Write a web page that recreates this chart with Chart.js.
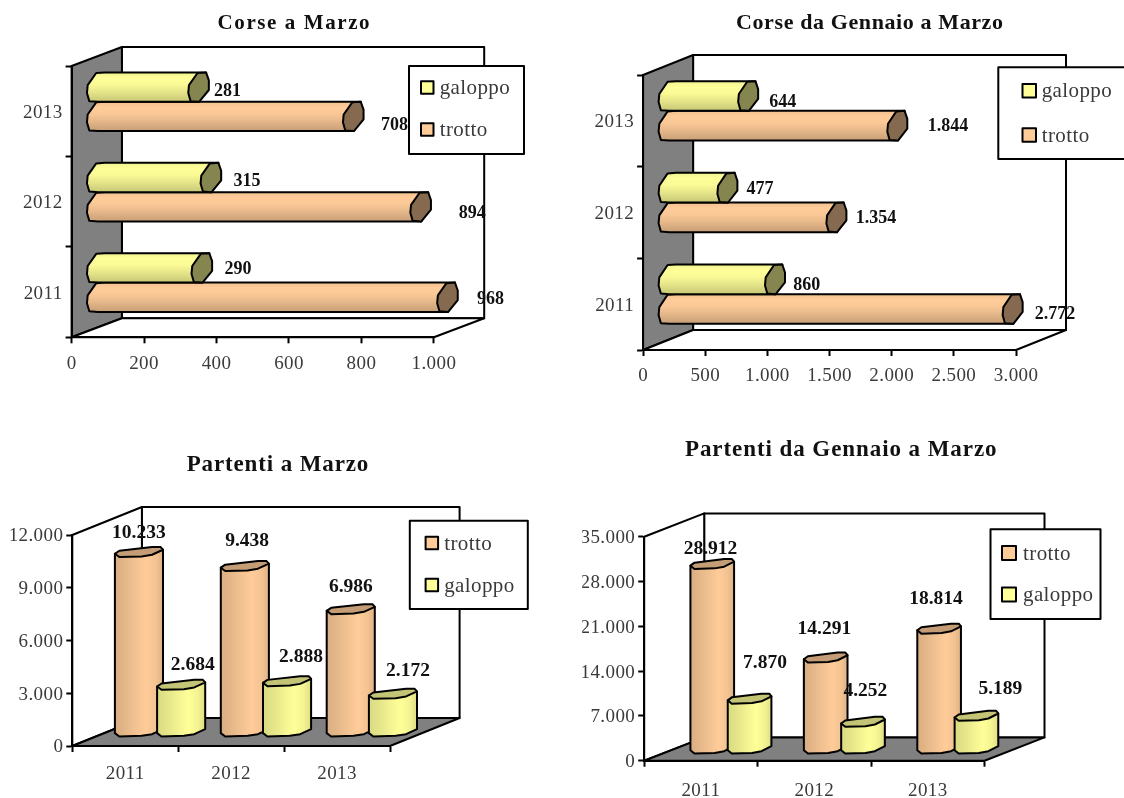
<!DOCTYPE html>
<html>
<head>
<meta charset="utf-8">
<title>Corse e partenti</title>
<script src="https://cdn.jsdelivr.net/npm/chart.js@4/dist/chart.umd.js"></script>
<style>
  html, body { margin: 0; padding: 0; background: #fff; }
  body { position: relative; width: 1124px; height: 798px; overflow: hidden; }
  canvas { position: absolute; }
</style>
</head>
<body>
<canvas id="corseMarzo"></canvas>
<canvas id="corseGennaio"></canvas>
<canvas id="partentiMarzo"></canvas>
<canvas id="partentiGennaio"></canvas>
<script>
// horizontal charts list years top to bottom
const corseYears = ['2013', '2012', '2011']
const corseMarzoGaloppo = [281, 315, 290]
const corseMarzoTrotto = [708, 894, 968]
const corseGennaioGaloppo = [644, 477, 860]
const corseGennaioTrotto = [1844, 1354, 2772]

const partentiYears = ['2011', '2012', '2013']
const partentiMarzoTrotto = [10233, 9438, 6986]
const partentiMarzoGaloppo = [2684, 2888, 2172]
const partentiGennaioTrotto = [28912, 14291, 18814]
const partentiGennaioGaloppo = [7870, 4252, 5189]

const TROTTO = [255, 204, 153]
const GALOPPO = [255, 255, 153]

// outline of the cylinder ends, in units of half width / half height
const sideCap = [[-0.1, -0.96], [0.73, -1], [1, -0.46], [1, 0.2], [0.07, 1], [-0.77, 0.96], [-1, 0.41], [-0.93, -0.13]]
const topCap = [[-0.97, 0.33], [-0.79, -0.27], [0.53, -1], [0.875, -1], [0.97, -0.47], [0.53, 0.53], [0.11, 0.87], [-0.79, 1]]

const shade = (rgb, f) => `rgb(${rgb.map(c => Math.round(c * f)).join(',')})`
const dotted = v => String(v).replace(/\B(?=(\d{3})+$)/g, '.')

function capPath(ctx, pts, cx, cy, a, h) {
  ctx.beginPath()
  pts.forEach((p, i) => {
    if (i === 0) ctx.moveTo(cx + p[0] * a, cy + p[1] * h)
    else ctx.lineTo(cx + p[0] * a, cy + p[1] * h)
  })
  ctx.closePath()
}

function inkStroke(ctx) {
  ctx.lineWidth = 2
  ctx.strokeStyle = '#000'
  ctx.lineJoin = 'round'
  ctx.stroke()
}

function drawSideBar(ctx, el, rgb, depth) {
  const { x, y, base, height } = el.getProps(['x', 'y', 'base', 'height'], true)
  const h = height / 2
  const a = depth.capA
  const cy = y + depth.dy / 2
  const x0 = base + depth.dx / 2
  const x1 = x + depth.dx / 2
  const grad = ctx.createLinearGradient(0, cy - h, 0, cy + h)
  const stops = [[0, 0.95], [0.2, 1], [0.4, 0.98], [0.6, 0.92], [0.8, 0.85], [1, 0.78]]
  stops.forEach(s => grad.addColorStop(s[0], shade(rgb, s[1])))
  ctx.beginPath()
  ctx.moveTo(x0 + 0.73 * a, cy - h)
  ctx.lineTo(x1 + 0.73 * a, cy - h)
  ctx.lineTo(x1 + 0.07 * a, cy + h)
  ctx.lineTo(x0 + 0.07 * a, cy + h)
  ctx.lineTo(x0 - 0.77 * a, cy + 0.96 * h)
  ctx.lineTo(x0 - a, cy + 0.41 * h)
  ctx.lineTo(x0 - 0.93 * a, cy - 0.13 * h)
  ctx.lineTo(x0 - 0.1 * a, cy - 0.96 * h)
  ctx.closePath()
  ctx.fillStyle = grad
  ctx.fill()
  inkStroke(ctx)
  capPath(ctx, sideCap, x1, cy, a, h)
  ctx.fillStyle = shade(rgb, 0.52)
  ctx.fill()
  inkStroke(ctx)
}

function drawColumn(ctx, el, rgb, depth) {
  const { x, y, base, width } = el.getProps(['x', 'y', 'base', 'width'], true)
  const a = width / 2
  const h = depth.capH
  const cx = x + depth.dx / 2
  const y0 = base + depth.dy / 2
  const y1 = y + depth.dy / 2
  const grad = ctx.createLinearGradient(cx - a, 0, cx + a, 0)
  const stops = [[0, 0.85], [0.2, 0.89], [0.4, 0.94], [0.65, 1], [0.85, 0.95], [1, 0.86]]
  stops.forEach(s => grad.addColorStop(s[0], shade(rgb, s[1])))
  ctx.beginPath()
  ctx.moveTo(cx - 0.97 * a, y1 + 0.33 * h)
  ctx.lineTo(cx - 0.97 * a, y0 + 0.33 * h)
  ctx.lineTo(cx - 0.79 * a, y0 + h)
  ctx.lineTo(cx + 0.11 * a, y0 + 0.87 * h)
  ctx.lineTo(cx + 0.53 * a, y0 + 0.53 * h)
  ctx.lineTo(cx + 0.97 * a, y0 - 0.47 * h)
  ctx.lineTo(cx + 0.97 * a, y1 - 0.47 * h)
  ctx.closePath()
  ctx.fillStyle = grad
  ctx.fill()
  inkStroke(ctx)
  capPath(ctx, topCap, cx, y1, a, h)
  ctx.fillStyle = shade(rgb, 0.77)
  ctx.fill()
  inkStroke(ctx)
}

function drawFrame(ctx, area, depth, horizontal) {
  const { left, right, top, bottom } = area
  const { dx, dy } = depth
  ctx.beginPath()
  ctx.rect(left + dx, top + dy, right - left, bottom - top)
  ctx.fillStyle = '#fff'
  ctx.fill()
  inkStroke(ctx)
  // side wall
  ctx.beginPath()
  ctx.moveTo(left, top)
  ctx.lineTo(left + dx, top + dy)
  ctx.lineTo(left + dx, bottom + dy)
  ctx.lineTo(left, bottom)
  ctx.closePath()
  ctx.fillStyle = horizontal ? '#808080' : '#fff'
  ctx.fill()
  inkStroke(ctx)
  // floor
  ctx.beginPath()
  ctx.moveTo(left, bottom)
  ctx.lineTo(right, bottom)
  ctx.lineTo(right + dx, bottom + dy)
  ctx.lineTo(left + dx, bottom + dy)
  ctx.closePath()
  ctx.fillStyle = horizontal ? '#fff' : '#808080'
  ctx.fill()
  inkStroke(ctx)
}

function fitText(ctx, text, cx, cy, font, width) {
  ctx.save()
  ctx.font = font
  ctx.letterSpacing = '0px'
  ctx.textAlign = 'center'
  ctx.textBaseline = 'middle'
  ctx.fillStyle = '#111'
  if (width) {
    const extra = (width - ctx.measureText(text).width) / text.length
    ctx.letterSpacing = extra.toFixed(2) + 'px'
  }
  ctx.fillText(text, cx, cy + 1.5)
  ctx.restore()
}

const cylinders = {
  id: 'cylinders',
  beforeDraw(chart, args, o) {
    chart.ctx.letterSpacing = o.tickSpacing + 'px'
    drawFrame(chart.ctx, chart.chartArea, o.depth, chart.options.indexAxis === 'y')
  },
  beforeDatasetsDraw(chart, args, o) {
    // trotto first in every chart, galoppo sits over it
    const draw = chart.options.indexAxis === 'y' ? drawSideBar : drawColumn
    const rows = chart.data.datasets.map((ds, i) => ({ ds, meta: chart.getDatasetMeta(i) }))
    rows.sort((a, b) => (a.ds.rgb === TROTTO ? -1 : 1) - (b.ds.rgb === TROTTO ? -1 : 1))
    rows.forEach(r => r.meta.data.forEach(el => draw(chart.ctx, el, r.ds.rgb, o.depth)))
  },
  beforeDatasetDraw() {
    return false
  },
  afterDatasetsDraw(chart, args, o) {
    const ctx = chart.ctx
    chart.data.datasets.forEach((ds, i) => {
      chart.getDatasetMeta(i).data.forEach((el, k) => {
        const px = el.getProps(['x', 'y'], true)
        const shift = ds.labelShift[k]
        const cx = px.x + o.depth.dx / 2 + shift[0]
        const cy = px.y + o.depth.dy / 2 + shift[1]
        fitText(ctx, dotted(ds.data[k]), cx, cy, `bold ${o.labelSize}px "Liberation Serif"`)
      })
    })
  },
  afterDraw(chart, args, o) {
    const ctx = chart.ctx
    const box = chart.canvas.getBoundingClientRect()
    ctx.save()
    ctx.translate(-box.left, -box.top)
    fitText(ctx, o.title.text, o.title.x, o.title.y, `bold ${o.title.size}px "Liberation Serif"`, o.title.width)
    const lg = o.legend
    ctx.beginPath()
    ctx.rect(lg.x, lg.y, lg.w, lg.h)
    ctx.fillStyle = '#fff'
    ctx.fill()
    inkStroke(ctx)
    chart.data.datasets.forEach((ds, i) => {
      ctx.beginPath()
      ctx.rect(lg.swatchX, lg.rows[i] - lg.swatch / 2, lg.swatch, lg.swatch)
      ctx.fillStyle = shade(ds.rgb, 1)
      ctx.fill()
      inkStroke(ctx)
      ctx.save()
      ctx.font = '21px "Liberation Serif"'
      ctx.letterSpacing = '0.4px'
      ctx.textAlign = 'left'
      ctx.textBaseline = 'middle'
      ctx.fillStyle = '#3a3a3a'
      ctx.fillText(ds.label, lg.textX, lg.rows[i] + 1)
      ctx.restore()
    })
    ctx.restore()
  }
}

function makeChart(id, cfg) {
  const canvas = document.getElementById(id)
  canvas.style.left = cfg.box.x + 'px'
  canvas.style.top = cfg.box.y + 'px'
  canvas.style.width = cfg.box.w + 'px'
  canvas.style.height = cfg.box.h + 'px'
  canvas.width = cfg.box.w
  canvas.height = cfg.box.h
  const side = cfg.indexAxis === 'y'
  const axisW = 62
  const axisH = 40
  const tickFont = { family: 'Liberation Serif', size: 19 }
  const gridOpts = { drawOnChartArea: false, tickLength: 6, tickWidth: 2, tickColor: '#000' }
  const borderOpts = { color: '#000', width: 2 }
  const valueAxis = {
    type: 'linear',
    min: 0,
    max: cfg.max,
    border: borderOpts,
    grid: gridOpts,
    afterFit: s => { if (side) s.height = axisH; else s.width = axisW },
    ticks: {
      stepSize: cfg.step,
      color: '#3a3a3a',
      font: tickFont,
      maxRotation: 0,
      padding: side ? cfg.bottomPad : 3,
      labelOffset: side ? 0 : 1.5,
      callback: v => dotted(v)
    }
  }
  const catAxis = {
    border: borderOpts,
    grid: gridOpts,
    afterFit: s => { if (side) s.width = axisW; else s.height = axisH },
    ticks: {
      color: '#3a3a3a',
      font: tickFont,
      padding: side ? 3 : cfg.bottomPad,
      labelOffset: side ? 1.5 : 0
    }
  }
  new Chart(canvas, {
    type: 'bar',
    data: { labels: cfg.labels, datasets: cfg.datasets },
    plugins: [cylinders],
    options: {
      indexAxis: cfg.indexAxis,
      responsive: false,
      animation: false,
      devicePixelRatio: 1,
      categoryPercentage: cfg.catPct,
      barPercentage: cfg.barPct,
      layout: {
        padding: {
          left: cfg.area.left - cfg.box.x - axisW,
          right: cfg.box.x + cfg.box.w - cfg.area.right,
          top: cfg.area.top - cfg.box.y,
          bottom: cfg.box.y + cfg.box.h - cfg.area.bottom - axisH
        }
      },
      scales: side ? { x: valueAxis, y: catAxis } : { x: catAxis, y: valueAxis },
      plugins: {
        legend: { display: false },
        title: { display: false },
        tooltip: { enabled: false },
        cylinders: {
          depth: cfg.depth,
          tickSpacing: 0.4,
          labelSize: cfg.labelSize,
          title: cfg.title,
          legend: cfg.legend
        }
      }
    }
  })
}

makeChart('corseMarzo', {
  box: { x: 0, y: 0, w: 560, h: 400 },
  area: { left: 71.6, right: 433.9, top: 66, bottom: 337.3 },
  indexAxis: 'y',
  labels: corseYears,
  max: 1000,
  step: 200,
  catPct: 0.648,
  barPct: 1,
  labelSize: 18,
  bottomPad: 9,
  depth: { dx: 50.3, dy: -19, capA: 10.3 },
  title: { text: 'Corse a Marzo', x: 294.4, y: 22, size: 21, width: 153.6 },
  legend: { x: 409, y: 66, w: 115, h: 88, swatchX: 421, swatch: 12.5, rows: [87.5, 129.5], textX: 439.7 },
  datasets: [
    { label: 'galoppo', data: corseMarzoGaloppo, rgb: GALOPPO,
      labelShift: [[28.9, 2.3], [36.2, 2.6], [36.3, -0.2]] },
    { label: 'trotto', data: corseMarzoTrotto, rgb: TROTTO,
      labelShift: [[41.2, 7.6], [51.5, 5], [43.1, 0.4]] }
  ]
})

makeChart('corseGennaio', {
  box: { x: 560, y: 0, w: 564, h: 400 },
  area: { left: 643.1, right: 1016, top: 75, bottom: 350 },
  indexAxis: 'y',
  labels: corseYears,
  max: 3000,
  step: 500,
  catPct: 0.648,
  barPct: 1,
  labelSize: 18,
  bottomPad: 9,
  depth: { dx: 50, dy: -20, capA: 10 },
  title: { text: 'Corse da Gennaio a Marzo', x: 869.8, y: 21.5, size: 22, width: 267.5 },
  // right edge runs off the page
  legend: { x: 998.3, y: 67.3, w: 140, h: 91.7, swatchX: 1022.5, swatch: 13.5, rows: [90.7, 135], textX: 1041.7 },
  datasets: [
    { label: 'galoppo', data: corseGennaioGaloppo, rgb: GALOPPO,
      labelShift: [[34.6, 5], [32.6, 0], [31.7, 4.7]] },
    { label: 'trotto', data: corseGennaioTrotto, rgb: TROTTO,
      labelShift: [[50.7, -0.7], [39.6, -0.6], [42.3, 3.7]] }
  ]
})

makeChart('partentiMarzo', {
  box: { x: 0, y: 400, w: 560, h: 398 },
  area: { left: 72.3, right: 390, top: 535, bottom: 746 },
  indexAxis: 'x',
  labels: partentiYears,
  max: 12000,
  step: 3000,
  catPct: 0.797,
  barPct: 1.175,
  labelSize: 19.5,
  bottomPad: 11,
  depth: { dx: 69.6, dy: -28, capH: 5 },
  title: { text: 'Partenti a Marzo', x: 277.9, y: 464, size: 23, width: 182.5 },
  legend: { x: 409.8, y: 520.7, w: 118, h: 88.3, swatchX: 425.6, swatch: 12.5, rows: [543, 585], textX: 444.2 },
  datasets: [
    { label: 'trotto', data: partentiMarzoTrotto, rgb: TROTTO,
      labelShift: [[-0.1, -20.8], [2.3, -26.7], [0.1, -23.2]] },
    { label: 'galoppo', data: partentiMarzoGaloppo, rgb: GALOPPO,
      labelShift: [[11.6, -21.5], [13.9, -25.5], [15, -24.5]] }
  ]
})

makeChart('partentiGennaio', {
  box: { x: 560, y: 400, w: 564, h: 398 },
  area: { left: 644.2, right: 984.5, top: 536.7, bottom: 760.7 },
  indexAxis: 'x',
  labels: partentiYears,
  max: 35000,
  step: 7000,
  catPct: 0.658,
  barPct: 1.206,
  labelSize: 19.5,
  bottomPad: 13,
  depth: { dx: 60, dy: -23.3, capH: 5 },
  title: { text: 'Partenti da Gennaio a Marzo', x: 841.2, y: 449, size: 23, width: 312.7 },
  legend: { x: 990.5, y: 529.3, w: 110, h: 89.7, swatchX: 1002, swatch: 14, rows: [553, 594.5], textX: 1023 },
  datasets: [
    { label: 'trotto', data: partentiGennaioTrotto, rgb: TROTTO,
      labelShift: [[-1.7, -16.7], [-1.3, -30.3], [-3.1, -31.3]] },
    { label: 'galoppo', data: partentiGennaioGaloppo, rgb: GALOPPO,
      labelShift: [[15.4, -37.4], [2.4, -32.5], [23.9, -28.5]] }
  ]
})
</script>
</body>
</html>
